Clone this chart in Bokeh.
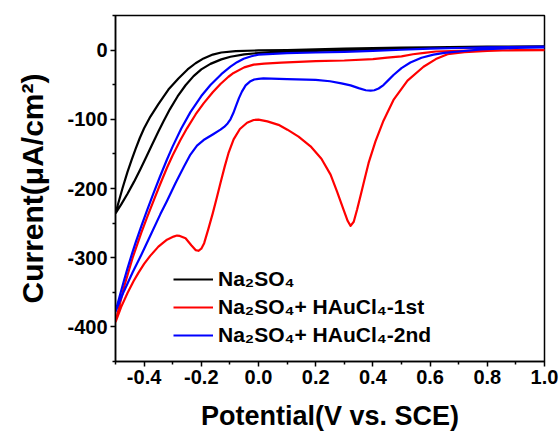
from bokeh.plotting import figure
from bokeh.models import Range1d, FixedTicker, PrintfTickFormatter, Legend, LegendItem
from bokeh.embed import file_html
from bokeh.resources import INLINE

# ---------------- data ----------------
black_a_x = [-0.500, -0.490, -0.475, -0.458, -0.443, -0.430, -0.415, -0.400, -0.378, -0.350, -0.315,
             -0.280, -0.248, -0.220, -0.192, -0.160, -0.130, -0.080, 0.000, 0.100, 0.200, 0.300,
             0.400, 0.500, 0.600, 0.800, 1.000]
black_a_y = [-236, -221, -199, -176, -158, -143, -127, -113, -96, -78, -57,
             -41, -28, -19, -12, -6.5, -3.5, -1.5, -0.5, 0, 1, 2,
             3, 3.5, 4, 5, 5.5]
black_b_x = [1.000, 0.800, 0.600, 0.400, 0.200, 0.000, -0.050, -0.098, -0.130, -0.168, -0.200,
             -0.227, -0.255, -0.283, -0.310, -0.332, -0.350, -0.371, -0.390, -0.413, -0.435,
             -0.458, -0.480, -0.500]
black_b_y = [5, 4, 3, 1, -1, -4.2, -6.2, -9.6, -13.4, -19.9, -27.9,
             -37.6, -50.8, -67, -85.6, -102.8, -117.7, -135.8, -152.3, -172.1, -190.1,
             -207.6, -223, -236]

red_a_x = [-0.500, -0.480, -0.458, -0.437, -0.420, -0.400, -0.378, -0.350, -0.320, -0.297, -0.285,
           -0.275, -0.255, -0.235, -0.220, -0.210, -0.200, -0.190, -0.175, -0.160, -0.145, -0.133,
           -0.118, -0.105, -0.087, -0.065, -0.040, -0.017, 0.000, 0.031, 0.070, 0.101, 0.140,
           0.182, 0.220, 0.252, 0.275, 0.297, 0.312, 0.322, 0.333, 0.345, 0.357, 0.370, 0.385,
           0.409, 0.437, 0.472, 0.521, 0.577, 0.620, 0.661, 0.720, 0.800, 0.900, 1.000]
red_a_y = [-393, -371, -351, -334, -322, -309, -297, -284, -274, -269.5, -268,
           -268.5, -272, -282, -289, -290, -287, -279, -258, -236, -212, -192,
           -168, -149, -129, -114, -105, -101, -100.5, -103, -108, -115, -125,
           -139, -157, -180, -205, -230, -247, -254, -248, -230, -210, -188, -163,
           -132, -102, -72, -44, -24, -13, -6, -3, -1, 0, 0]
red_b_x = [1.000, 0.800, 0.700, 0.620, 0.580, 0.540, 0.500, 0.450, 0.400, 0.300, 0.200, 0.080,
           0.020, -0.017, -0.050, -0.087, -0.105, -0.133, -0.160, -0.192, -0.220, -0.250,
           -0.273, -0.300, -0.320, -0.345, -0.367, -0.390, -0.410, -0.440, -0.470, -0.500]
red_b_y = [0, -0.5, -1, -2, -4, -6, -9, -11, -13, -15, -16, -18,
           -19.5, -21, -25, -33, -38.5, -49, -61, -77, -93, -113,
           -130, -152, -170, -195, -218, -242, -264, -300, -342, -393]

blue_a_x = [-0.500, -0.485, -0.470, -0.458, -0.443, -0.430, -0.410, -0.390, -0.370, -0.345, -0.320,
            -0.300, -0.270, -0.238, -0.200, -0.168, -0.130, -0.098, -0.075, -0.052, -0.025,
            0.000, 0.100, 0.200, 0.300, 0.400, 0.500, 0.600, 0.700, 0.800, 1.000]
blue_a_y = [-378, -355, -332.5, -315.5, -295.3, -278.7, -254.7, -231.9, -209.9, -183.4, -158.1,
            -139.1, -113.3, -89.6, -66.4, -50.4, -34.8, -23.9, -17.5, -12.4, -8.9,
            -6.5, -4.5, -3.5, -2.5, -1, 0.5, 2, 3, 4, 5]
blue_b_x = [1.000, 0.900, 0.780, 0.700, 0.650, 0.612, 0.570, 0.531, 0.500, 0.472, 0.455, 0.437,
            0.420, 0.405, 0.392, 0.375, 0.350, 0.322, 0.290, 0.250, 0.200, 0.100, 0.017,
            0.000, -0.015, -0.030, -0.045, -0.058, -0.068, -0.078, -0.088, -0.098, -0.108,
            -0.120, -0.133, -0.160, -0.192, -0.215, -0.238, -0.260, -0.290, -0.320, -0.343,
            -0.378, -0.410, -0.440, -0.470, -0.500]
blue_b_y = [4, 3, 1, -2, -4, -6.5, -11, -18, -26, -36, -43, -50.5,
            -55.5, -58, -58.5, -58, -55, -51, -48, -45, -43, -42, -41,
            -41.5, -42.5, -45.5, -51, -60, -69, -80, -91, -100, -106,
            -111, -115, -122, -130, -138, -151, -168, -192, -218, -237,
            -268, -296, -321, -348, -378]

labels = ["Na\u2082SO\u2084", "Na\u2082SO\u2084+ HAuCl\u2084-1st", "Na\u2082SO\u2084+ HAuCl\u2084-2nd"]
colors = ["#000000", "#ff0000", "#0000ff"]

x_ticks = [-0.4, -0.2, 0.0, 0.2, 0.4, 0.6, 0.8, 1.0]
x_minor = [-0.5, -0.3, -0.1, 0.1, 0.3, 0.5, 0.7, 0.9]
y_ticks = [-400, -300, -200, -100, 0]
y_minor = [-450, -350, -250, -150, -50, 50]

FONT = "Liberation Sans"

p = figure(width=560, height=433, output_backend="svg", toolbar_location=None,
           x_range=Range1d(-0.5, 1.0), y_range=Range1d(-450, 50),
           min_border_left=115, min_border_right=16, min_border_top=15, min_border_bottom=70)
p.background_fill_color = "white"
p.border_fill_color = "white"
p.grid.visible = False
p.outline_line_color = "#000000"
p.outline_line_width = 1.5

series = [
    (black_a_x + black_b_x, black_a_y + black_b_y),
    (red_a_x + red_b_x, red_a_y + red_b_y),
    (blue_a_x + blue_b_x, blue_a_y + blue_b_y),
]
renderers = []
for (xs, ys), c in zip(series, colors):
    r = p.line(xs, ys, line_color=c, line_width=2.2, line_join="round")
    renderers.append(r)

for ax in (p.xaxis[0], p.yaxis[0]):
    ax.axis_line_width = 1.5
    ax.axis_line_color = "#000000"
    ax.major_tick_line_width = 1.5
    ax.minor_tick_line_width = 1.5
    ax.major_tick_in = 0
    ax.major_tick_out = 5
    ax.minor_tick_in = 0
    ax.minor_tick_out = 3
    ax.major_label_text_font = FONT
    ax.major_label_text_font_style = "bold"
    ax.major_label_text_font_size = "20px"
    ax.major_label_text_color = "#000000"
    ax.axis_label_text_font = FONT
    ax.axis_label_text_font_style = "bold"
    ax.axis_label_text_color = "#000000"

p.xaxis[0].ticker = FixedTicker(ticks=x_ticks, minor_ticks=x_minor)
p.xaxis[0].formatter = PrintfTickFormatter(format="%.1f")
p.xaxis[0].major_label_standoff = 3
p.xaxis[0].axis_label = "Potential(V vs. SCE)"
p.xaxis[0].axis_label_text_font_size = "27px"
p.xaxis[0].axis_label_standoff = 14

p.yaxis[0].ticker = FixedTicker(ticks=y_ticks, minor_ticks=y_minor)
p.yaxis[0].formatter = PrintfTickFormatter(format="%d")
p.yaxis[0].major_label_standoff = 3
p.yaxis[0].axis_label = "Current(\u03bcA/cm\u00b2)"
p.yaxis[0].axis_label_text_font_size = "30px"
p.yaxis[0].axis_label_standoff = 15

legend = Legend(items=[LegendItem(label=l, renderers=[r]) for l, r in zip(labels, renderers)],
                location=(58, 14))
legend.border_line_color = None
legend.background_fill_alpha = 0
legend.padding = 0
legend.margin = 0
legend.spacing = 4
legend.glyph_width = 40
legend.glyph_height = 22
legend.label_height = 22
legend.label_standoff = 5
legend.label_text_font = FONT
legend.label_text_font_style = "bold"
legend.label_text_font_size = "21px"
legend.label_text_color = "#000000"
p.add_layout(legend, "center")

open("out.html", "w").write(file_html(p, INLINE))
